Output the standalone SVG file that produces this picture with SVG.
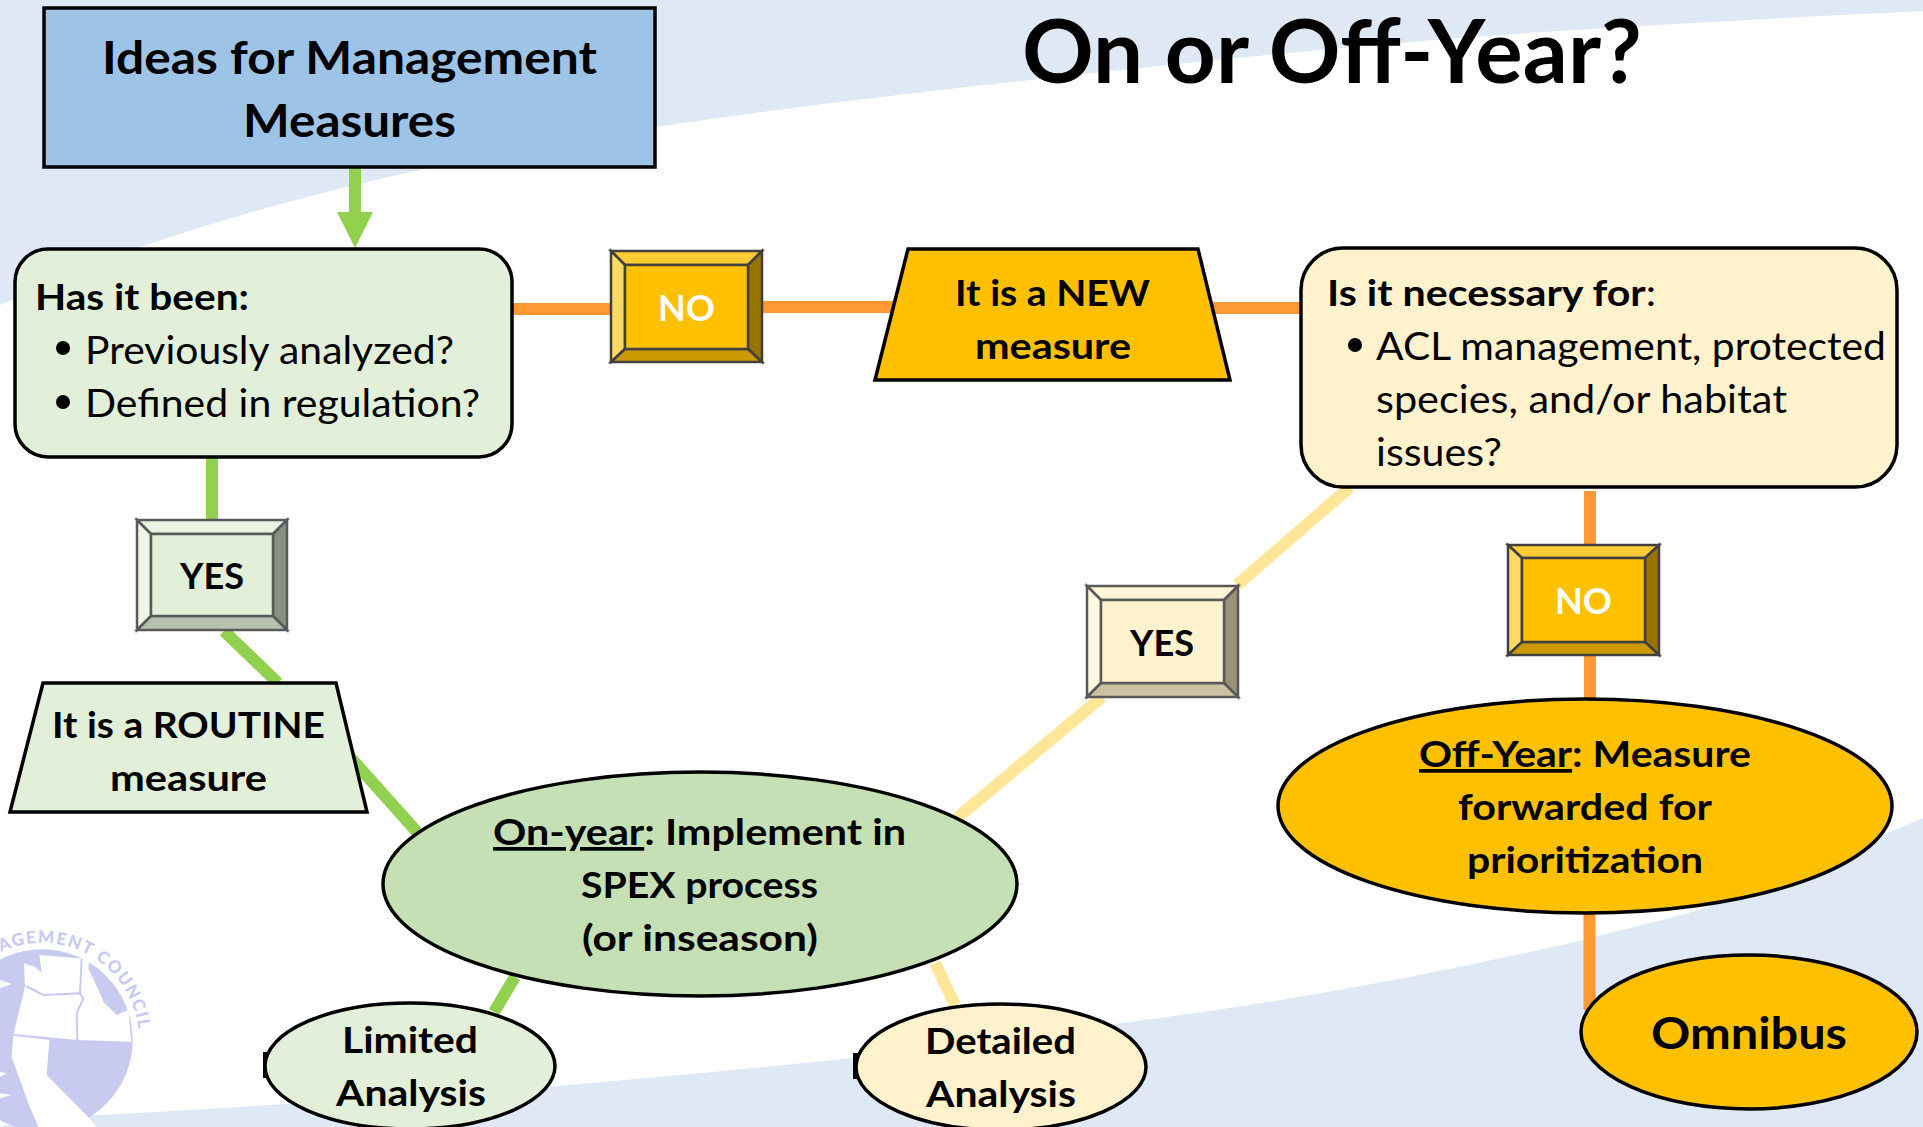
<svg xmlns="http://www.w3.org/2000/svg" width="1923" height="1127" viewBox="0 0 1923 1127">
<style>
text{font-family:"Lato","Carlito","Open Sans",sans-serif;fill:#000}
.b{font-weight:700}
.n{stroke:#000;stroke-width:3.5}
.c{fill:none;stroke-width:12}
.g{stroke:#92D050}.o{stroke:#FF9933}.y{stroke:#FFE699}
.bv{stroke:#404040;stroke-width:2.5;stroke-linejoin:miter}
.bc{stroke:#595959;stroke-width:2.5}
</style>
<rect width="1923" height="1127" fill="#fff"/>
<g id="background" fill="#DEE9F5">
<path d="M0 305C47 286 94 263 141 247C237 214 333 189 429 168C505 151 580 138 656 127C781 108 905 94 1030 80C1165 65 1300 51 1435 40C1598 27 1760 19 1923 11V0H0Z"/>
<path d="M0 1126C35 1122 70 1117 100 1115C150 1112 195 1110 240 1107C345 1100 445 1094 546 1087C650 1078 750 1069 852 1058C945 1047 1035 1035 1122 1023C1280 1003 1430 975 1583 940C1620 930 1655 922 1689 913C1760 890 1825 862 1882 835C1897 829 1910 824 1923 818V1127H0Z"/>
</g>
<g id="logo">
<g transform="translate(0,880) scale(.3333)">
<circle cx="126" cy="480" r="272" fill="#C8CAF0"/>
<path d="M118 225L268 238L265 265L300 340L310 365L350 405L385 390L394 488L235 483L40 465L75 320L72 250L105 260L125 278Z" fill="#fff"/>
<path d="M40 465L148 480L140 585L265 712L290 741H115L85 670L35 530Z" fill="#fff"/>
<path d="M245 237L240 340L130 345L78 318M240 340L250 355L230 400L232 483M40 465L232 483L392 488" fill="none" stroke="#C8CAF0" stroke-width="6"/>
<path d="M0 300L35 312L0 325ZM0 575L20 580L0 590ZM0 640L35 645L0 655Z" fill="#fff"/>
</g>
<path id="lp" d="M1 952A97 97 0 0 1 138 1026" fill="none"/>
<text font-size="17" style="font-weight:900;fill:#C8CAF0;letter-spacing:1.5px"><textPath href="#lp">AGEMENT COUNCIL</textPath></text>
</g>
<g id="connectors">
<path class="c g" d="M355 167V215"/>
<path d="M337 212H373L355 248Z" fill="#92D050"/>
<path class="c o" d="M511 309H612M761 307H895M1205 308H1302"/>
<path class="c g" d="M212 457V521M224 631L278 683M350 757L417 832M515 977L494 1012"/>
<path class="c y" d="M1350 487L1237 585M1102 697L957 818M935 963L955 1005"/>
<path class="c o" d="M1590 491V545M1590 655V700M1589.500 912V1010"/>
</g>
<g id="title"><text class="b" x="1022" y="83" font-size="88" textLength="620" lengthAdjust="spacingAndGlyphs">On or Off-Year?</text></g>
<g id="ideas">
<rect class="n" x="44" y="8" width="611" height="159" fill="#9DC3E6"/>
<text class="b" x="102" y="74" font-size="46" textLength="495" lengthAdjust="spacingAndGlyphs">Ideas for Management</text>
<text class="b" x="243" y="137" font-size="46" textLength="213" lengthAdjust="spacingAndGlyphs">Measures</text>
</g>
<g id="has-it-been">
<rect class="n" x="15" y="249" width="497" height="208" rx="33" fill="#E2F0D9"/>
<text class="b" x="35" y="310" font-size="37" textLength="214" lengthAdjust="spacingAndGlyphs">Has it been:</text>
<circle cx="63" cy="348" r="7"/>
<text x="85" y="364" font-size="38" textLength="369" lengthAdjust="spacingAndGlyphs">Previously analyzed?</text>
<circle cx="63" cy="402" r="7"/>
<text x="85" y="417" font-size="38" textLength="395" lengthAdjust="spacingAndGlyphs">Defined in regulation?</text>
</g>
<g id="no-1">
<rect x="611" y="251" width="151" height="111" fill="#FFC000"/>
<path class="bv" fill="#FFCD33" d="M611 251H762L748 265H625Z"/>
<path class="bv" fill="#FFD966" d="M611 251L625 265V349L611 362Z"/>
<path class="bv" fill="#997300" d="M762 251L748 265V349L762 362Z"/>
<path class="bv" fill="#CC9A00" d="M611 362L625 349H748L762 362Z"/>
<rect class="bv" x="625" y="265" width="123" height="84" fill="#FFC000"/>
<text class="b" x="658" y="321" font-size="37" textLength="57" lengthAdjust="spacingAndGlyphs" style="fill:#fff">NO</text>
</g>
<g id="new-measure">
<path class="n" d="M908 249H1198L1230 380H875Z" fill="#FFC000"/>
<text class="b" x="955" y="306" font-size="37" textLength="195" lengthAdjust="spacingAndGlyphs">It is a NEW</text>
<text class="b" x="975" y="359" font-size="37" textLength="156" lengthAdjust="spacingAndGlyphs">measure</text>
</g>
<g id="necessary">
<rect class="n" x="1301" y="248" width="596" height="239" rx="42" fill="#FFF2CC"/>
<text x="1327" y="306" font-size="37" textLength="329" lengthAdjust="spacingAndGlyphs"><tspan class="b">Is it necessary for</tspan>:</text>
<circle cx="1355" cy="345" r="7"/>
<text x="1376" y="360" font-size="38" textLength="510" lengthAdjust="spacingAndGlyphs">ACL management, protected</text>
<text x="1376" y="413" font-size="38" textLength="411" lengthAdjust="spacingAndGlyphs">species, and/or habitat</text>
<text x="1376" y="466" font-size="38" textLength="126" lengthAdjust="spacingAndGlyphs">issues?</text>
</g>
<g id="yes-1">
<rect x="137" y="520" width="150" height="110" fill="#E2F0D9"/>
<path class="bc" fill="#E8F3E1" d="M137 520H287L273 534H151Z"/>
<path class="bc" fill="#EEF6E8" d="M137 520L151 534V616L137 630Z"/>
<path class="bc" fill="#88907F" d="M287 520L273 534V616L287 630Z"/>
<path class="bc" fill="#B5C0AE" d="M137 630L151 616H273L287 630Z"/>
<rect class="bc" x="151" y="534" width="122" height="82" fill="#E2F0D9"/>
<text class="b" x="180" y="589" font-size="37" textLength="64" lengthAdjust="spacingAndGlyphs">YES</text>
</g>
<g id="routine">
<path class="n" d="M43 683H336L367 812H10Z" fill="#E2F0D9"/>
<text class="b" x="52" y="738" font-size="37" textLength="273" lengthAdjust="spacingAndGlyphs">It is a ROUTINE</text>
<text class="b" x="110" y="791" font-size="37" textLength="157" lengthAdjust="spacingAndGlyphs">measure</text>
</g>
<g id="yes-2">
<rect x="1087" y="586" width="151" height="111" fill="#FFF2CC"/>
<path class="bc" fill="#FFF5D6" d="M1087 586H1238L1224 600H1101Z"/>
<path class="bc" fill="#FFF8E0" d="M1087 586L1101 600V683L1087 697Z"/>
<path class="bc" fill="#99917A" d="M1238 586L1224 600V683L1238 697Z"/>
<path class="bc" fill="#CCC2A3" d="M1087 697L1101 683H1224L1238 697Z"/>
<rect class="bc" x="1101" y="600" width="123" height="83" fill="#FFF2CC"/>
<text class="b" x="1130" y="656" font-size="37" textLength="64" lengthAdjust="spacingAndGlyphs">YES</text>
</g>
<g id="no-2">
<rect x="1508" y="545" width="151" height="110" fill="#FFC000"/>
<path class="bv" fill="#FFCD33" d="M1508 545H1659L1645 558H1522Z"/>
<path class="bv" fill="#FFD966" d="M1508 545L1522 558V642L1508 655Z"/>
<path class="bv" fill="#997300" d="M1659 545L1645 558V642L1659 655Z"/>
<path class="bv" fill="#CC9A00" d="M1508 655L1522 642H1645L1659 655Z"/>
<rect class="bv" x="1522" y="558" width="123" height="84" fill="#FFC000"/>
<text class="b" x="1555" y="614" font-size="37" textLength="57" lengthAdjust="spacingAndGlyphs" style="fill:#fff">NO</text>
</g>
<g id="off-year">
<ellipse class="n" cx="1585" cy="806" rx="307" ry="107" fill="#FFC000"/>
<text class="b" x="1419" y="767" font-size="37" textLength="332" lengthAdjust="spacingAndGlyphs"><tspan text-decoration="underline">Off-Year</tspan>: Measure</text>
<text class="b" x="1458" y="820" font-size="37" textLength="254" lengthAdjust="spacingAndGlyphs">forwarded for</text>
<text class="b" x="1467" y="873" font-size="37" textLength="236" lengthAdjust="spacingAndGlyphs">prioritization</text>
</g>
<g id="on-year">
<ellipse class="n" cx="700" cy="884" rx="317" ry="112" fill="#C5E0B4"/>
<text class="b" x="493" y="845" font-size="37" textLength="413" lengthAdjust="spacingAndGlyphs"><tspan text-decoration="underline">On-year</tspan>: Implement in</text>
<text class="b" x="581" y="898" font-size="37" textLength="237" lengthAdjust="spacingAndGlyphs">SPEX process</text>
<text class="b" x="582" y="951" font-size="37" textLength="236" lengthAdjust="spacingAndGlyphs">(or inseason)</text>
</g>
<g id="limited">
<rect x="263" y="1052" width="6" height="26"/>
<ellipse class="n" cx="410" cy="1066" rx="145" ry="63" fill="#E2F0D9"/>
<text class="b" x="342" y="1053" font-size="37" textLength="136" lengthAdjust="spacingAndGlyphs">Limited</text>
<text class="b" x="336" y="1106" font-size="37" textLength="150" lengthAdjust="spacingAndGlyphs">Analysis</text>
</g>
<g id="detailed">
<rect x="853" y="1053" width="6" height="26"/>
<ellipse class="n" cx="1001" cy="1067" rx="145" ry="63" fill="#FFF2CC"/>
<text class="b" x="925" y="1054" font-size="37" textLength="151" lengthAdjust="spacingAndGlyphs">Detailed</text>
<text class="b" x="926" y="1107" font-size="37" textLength="150" lengthAdjust="spacingAndGlyphs">Analysis</text>
</g>
<g id="omnibus">
<ellipse class="n" cx="1749" cy="1032" rx="168" ry="77" fill="#FFC000"/>
<text class="b" x="1651" y="1049" font-size="44" textLength="196" lengthAdjust="spacingAndGlyphs">Omnibus</text>
</g>
</svg>
